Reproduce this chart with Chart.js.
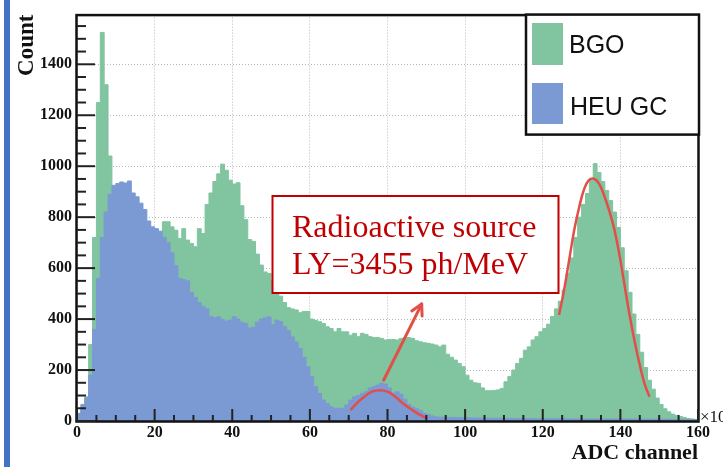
<!DOCTYPE html>
<html>
<head>
<meta charset="utf-8">
<title>BGO / HEU GC spectrum</title>
<script src="https://cdn.jsdelivr.net/npm/chart.js@4.4.1/dist/chart.umd.min.js"></script>
<style>
    html, body { margin: 0; padding: 0; background: #fff; }
    #wrap { width: 723px; height: 467px; }
</style>
</head>
<body>
<div id="wrap"><canvas id="spectrum" width="723" height="467"></canvas></div>
<script>
// Histogram binning (ADC channel, x10^3)
const binStart = 0;
const binWidth = 1;

// BGO counts per bin
const bgoCounts = [
    25, 55, 95, 300, 720, 1250, 1525, 1320, 1040, 800,
    760, 720, 700, 690, 690, 700, 710, 720, 730, 740,
    745, 740, 782, 782, 762, 749, 716, 755, 710, 697,
    684, 755, 736, 850, 895, 940, 970, 1008, 984, 945,
    930, 935, 845, 790, 712, 705, 655, 612, 585, 579,
    550, 520, 490, 465, 445, 440, 436, 425, 430, 430,
    400, 395, 390, 383, 370, 363, 350, 363, 350, 350,
    337, 344, 331, 344, 340, 331, 328, 328, 324, 318,
    320, 320, 318, 324, 328, 328, 324, 315, 311, 307,
    305, 302, 298, 291, 298, 262, 250, 239, 226, 213,
    180, 160, 150, 148, 130, 119, 119, 120, 122, 128,
    154, 175, 200, 226, 246, 278, 291, 318, 331, 350,
    363, 380, 410, 440, 470, 514, 580, 640, 720, 800,
    850, 893, 950, 1010, 975, 940, 905, 865, 820, 760,
    680, 590, 505, 420, 340, 270, 210, 160, 125, 90,
    65, 48, 36, 27, 22, 18, 14, 10, 8, 6
];

// HEU GC counts per bin
const heuCounts = [
    30, 65, 90, 180, 360, 560, 720, 820, 890, 925,
    932, 938, 934, 942, 895, 880, 855, 830, 785, 762,
    755, 745, 720, 700, 660, 610, 560, 555, 550, 505,
    485, 465, 450, 440, 410, 405, 409, 398, 392, 396,
    410, 400, 388, 383, 365, 368, 388, 400, 405, 409,
    378, 396, 390, 370, 355, 330, 310, 285, 250, 213,
    174, 135, 108, 82, 69, 56, 50, 50, 50, 63,
    82, 95, 100, 108, 115, 130, 135, 141, 148, 145,
    130, 110, 115, 105, 85, 65, 55, 48, 42, 30,
    25, 20, 16, 15, 15, 14, 14, 14, 13, 13,
    13, 12, 12, 12, 12, 11, 11, 11, 11, 11,
    10, 10, 10, 10, 10, 10, 10, 9, 9, 9,
    9, 9, 9, 9, 9, 9, 8, 8, 8, 8,
    8, 8, 8, 8, 8, 8, 8, 8, 8, 8,
    8, 8, 8, 8, 7, 7, 7, 7, 7, 7,
    7, 7, 7, 7, 6, 6, 6, 6, 6, 6
];

// Fitted peaks
const heuFitX = [70.5, 72, 74, 76, 78, 80, 82, 84, 86, 88, 90.2];
const heuFitY = [43, 68, 95, 115, 121, 115, 95, 69, 47, 27, 10];
const bgoFitX = [124.2, 125.5, 126.8, 128.1, 129.4, 130.7, 131.9, 133.2, 134.5, 135.8,
                 137.1, 138.4, 139.7, 141, 142.3, 143.6, 144.9, 146.2, 147.5];
const bgoFitY = [416, 514, 631, 749, 840, 912, 945, 951, 932, 886,
                 827, 755, 657, 540, 422, 318, 226, 148, 95];

// Axes
const xTicks = [0, 20, 40, 60, 80, 100, 120, 140, 160];
const yTicks = [0, 200, 400, 600, 800, 1000, 1200, 1400];
const xMin = 0, xMax = 160, xMinorStep = 5;
const yMin = 0, yMax = 1595, yMinorStep = 50;

// Arrow from the small peak towards the label (data coordinates)
const arrowFrom = { x: 79.0, y: 160 };
const arrowTo = { x: 88.8, y: 459 };

const serif = '"Liberation Serif", "Times New Roman", serif';
const sans = '"Liberation Sans", Arial, sans-serif';
const bgoColor = '#80c4a0';
const heuColor = '#7b9ad3';
const fitRed = 'rgb(226, 78, 72)';
const labelRed = '#c00000';

function histPoints(counts) {
    const pts = counts.map((c, i) => ({ x: binStart + i * binWidth, y: c }));
    pts.push({ x: binStart + counts.length * binWidth, y: 0 });
    return pts;
}

function pairs(xs, ys) {
    return xs.map((x, i) => ({ x: x, y: ys[i] }));
}

function line(ctx, x1, y1, x2, y2) {
    ctx.beginPath();
    ctx.moveTo(x1, y1);
    ctx.lineTo(x2, y2);
    ctx.stroke();
}

const decor = {
    id: 'decor',
    beforeDraw(chart) {
        const ctx = chart.ctx;
        ctx.save();
        ctx.fillStyle = '#fff';
        ctx.fillRect(0, 0, chart.width, chart.height);
        // blue slide edge
        ctx.fillStyle = '#4472c4';
        ctx.fillRect(4, 0, 6, chart.height);
        ctx.restore();
    },
    afterDatasetsDraw(chart) {
        const { ctx, chartArea: a, scales: { x, y } } = chart;
        ctx.save();

        // frame
        ctx.strokeStyle = '#111';
        ctx.lineWidth = 2.5;
        ctx.strokeRect(a.left - 0.5, a.top + 0.5, a.right - a.left + 1, a.bottom - a.top);

        // inner tick marks (major on the labelled values)
        ctx.strokeStyle = '#222';
        ctx.lineWidth = 2;
        for (let v = yMin; v <= yMax; v += yMinorStep) {
            const py = y.getPixelForValue(v);
            const len = yTicks.includes(v) ? 18 : 9;
            line(ctx, a.left, py, a.left + len, py);
        }
        for (let v = xMin; v <= xMax; v += xMinorStep) {
            const px = x.getPixelForValue(v);
            const len = xTicks.includes(v) ? 12 : 6;
            line(ctx, px, a.bottom, px, a.bottom - len);
        }

        // exponent label, cut by the canvas edge
        ctx.fillStyle = '#111';
        ctx.font = '17px ' + serif;
        ctx.textBaseline = 'alphabetic';
        ctx.fillText('\u00d710', a.right + 2, a.bottom + 1);

        // legend
        const lx = 526, ly = a.top, lw = a.right + 1 - 526, lh = 120;
        ctx.fillStyle = '#fff';
        ctx.fillRect(lx, ly, lw, lh);
        ctx.strokeStyle = '#111';
        ctx.lineWidth = 2.5;
        ctx.strokeRect(lx, ly, lw, lh);
        ctx.fillStyle = bgoColor;
        ctx.fillRect(532, 23, 31, 42);
        ctx.fillStyle = heuColor;
        ctx.fillRect(532, 83, 31, 41);
        ctx.fillStyle = '#111';
        ctx.font = '25px ' + sans;
        ctx.fillText('BGO', 569, 53);
        ctx.fillText('HEU GC', 570, 115);

        // light-yield label
        ctx.fillStyle = '#fff';
        ctx.fillRect(272.5, 196, 286, 97);
        ctx.strokeStyle = labelRed;
        ctx.lineWidth = 2;
        ctx.strokeRect(272.5, 196, 286, 97);
        ctx.fillStyle = labelRed;
        ctx.font = '32px ' + serif;
        ctx.fillText('Radioactive source', 292, 237);
        ctx.fillText('LY=3455 ph/MeV', 292, 274);

        // arrow
        const x1 = x.getPixelForValue(arrowFrom.x), y1 = y.getPixelForValue(arrowFrom.y);
        const x2 = x.getPixelForValue(arrowTo.x), y2 = y.getPixelForValue(arrowTo.y);
        const ang = Math.atan2(y2 - y1, x2 - x1);
        ctx.strokeStyle = fitRed;
        ctx.lineWidth = 3;
        ctx.lineCap = 'round';
        line(ctx, x1, y1, x2, y2);
        line(ctx, x2, y2, x2 - 12 * Math.cos(ang - 0.5), y2 - 12 * Math.sin(ang - 0.5));
        line(ctx, x2, y2, x2 - 12 * Math.cos(ang + 0.5), y2 - 12 * Math.sin(ang + 0.5));

        ctx.restore();
    }
};

const gridOpts = { color: '#b8b8b8', lineWidth: 1, drawTicks: false };
const borderOpts = { display: false, dash: [1, 2] };
const tickFont = { family: serif, size: 16, weight: 'bold' };

new Chart(document.getElementById('spectrum'), {
    type: 'line',
    data: {
        datasets: [
            {
                label: 'BGO fit', data: pairs(bgoFitX, bgoFitY),
                borderColor: fitRed, borderWidth: 2.5, pointRadius: 0,
                tension: 0.4, fill: false, order: 1
            },
            {
                label: 'HEU GC fit', data: pairs(heuFitX, heuFitY),
                borderColor: fitRed, borderWidth: 2.5, pointRadius: 0,
                tension: 0.4, fill: false, order: 1
            },
            {
                label: 'HEU GC', data: histPoints(heuCounts), stepped: true,
                fill: 'origin', backgroundColor: heuColor, borderColor: heuColor,
                borderWidth: 1, pointRadius: 0, order: 2
            },
            {
                label: 'BGO', data: histPoints(bgoCounts), stepped: true,
                fill: 'origin', backgroundColor: bgoColor, borderColor: bgoColor,
                borderWidth: 1, pointRadius: 0, order: 3
            }
        ]
    },
    options: {
        responsive: false,
        animation: false,
        devicePixelRatio: 1,
        layout: { padding: { left: 0, top: 14, right: 25, bottom: 0 } },
        plugins: { legend: { display: false }, tooltip: { enabled: false } },
        scales: {
            x: {
                type: 'linear', min: xMin, max: xMax,
                afterFit(s) { s.height = 46; },
                afterBuildTicks(s) { s.ticks = xTicks.map(v => ({ value: v })); },
                ticks: {
                    padding: 2, color: '#111', font: tickFont, maxRotation: 0, autoSkip: false,
                    callback: v => String(v)
                },
                grid: gridOpts,
                border: borderOpts,
                title: {
                    display: true, text: 'ADC channel', align: 'end', color: '#111',
                    font: { family: serif, size: 22, weight: 'bold' }, padding: { top: 0, bottom: 0 }
                }
            },
            y: {
                type: 'linear', min: yMin, max: yMax,
                afterFit(s) { s.width = 77; },
                afterBuildTicks(s) { s.ticks = yTicks.map(v => ({ value: v })); },
                ticks: {
                    padding: 5, color: '#111', font: tickFont, autoSkip: false,
                    callback: v => String(v)
                },
                grid: gridOpts,
                border: borderOpts,
                title: {
                    display: true, text: 'Count', align: 'end', color: '#111',
                    font: { family: serif, size: 23, weight: 'bold' }, padding: { top: 13, bottom: 0 }
                }
            }
        }
    },
    plugins: [decor]
});
</script>
</body>
</html>
